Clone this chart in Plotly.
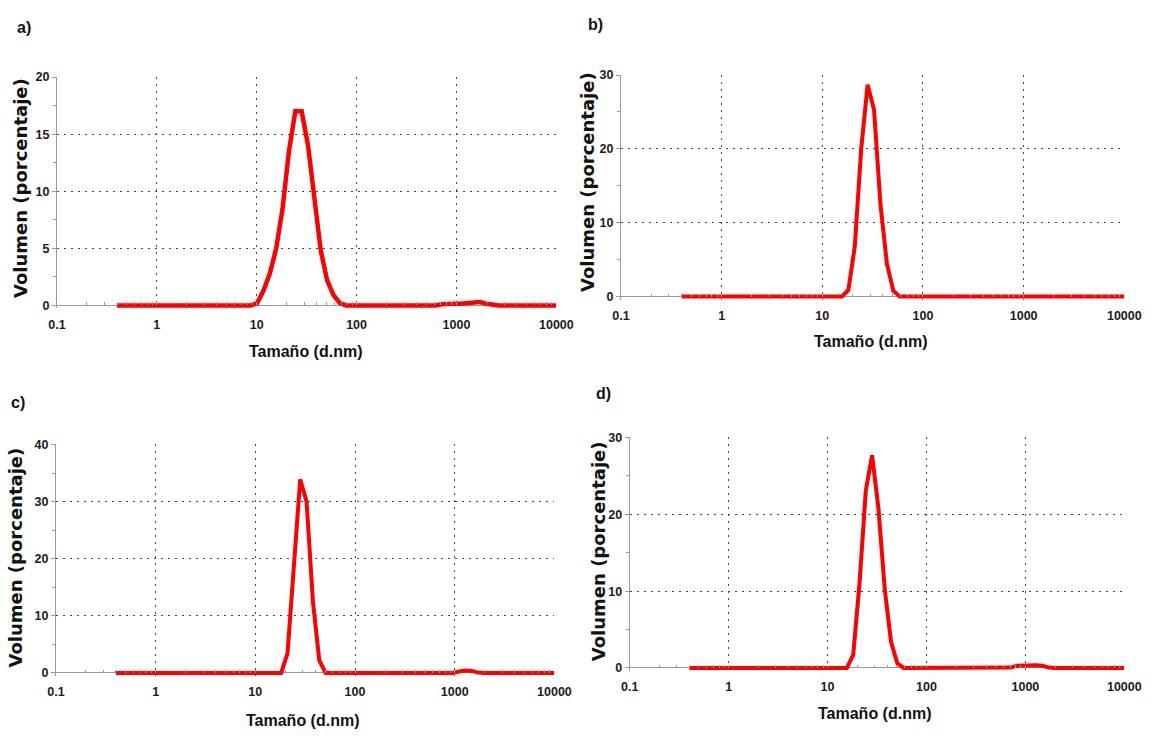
import plotly.graph_objects as go

# ---------------- data ----------------
size_nm = [0.4, 0.4632, 0.5365, 0.6213, 0.7195, 0.8332, 0.9649, 1.117, 1.294, 1.499,
           1.736, 2.01, 2.328, 2.696, 3.122, 3.615, 4.187, 4.849, 5.615, 6.503,
           7.531, 8.721, 10.1, 11.7, 13.54, 15.69, 18.17, 21.04, 24.36, 28.21,
           32.67, 37.84, 43.82, 50.75, 58.77, 68.06, 78.82, 91.28, 105.7, 122.4,
           141.8, 164.2, 190.1, 220.2, 255, 295.3, 342, 396.1, 458.7, 531.2,
           615.1, 712.4, 825, 955.4, 1106, 1281, 1484, 1718, 1990, 2305,
           2669, 3091, 3580, 4145, 4801, 5560, 6439, 7456, 8635, 10000]

vol_a = [0, 0, 0, 0, 0, 0, 0, 0, 0, 0,
         0, 0, 0, 0, 0, 0, 0, 0, 0, 0,
         0, 0, 0.2, 1.3, 2.8, 5.0, 8.5, 13.5, 17.0, 17.0,
         14.0, 9.2, 4.8, 2.2, 0.9, 0.2, 0, 0, 0, 0,
         0, 0, 0, 0, 0, 0, 0, 0, 0, 0,
         0, 0.1, 0.15, 0.15, 0.15, 0.2, 0.3, 0.3, 0.15, 0.05,
         0, 0, 0, 0, 0, 0, 0, 0, 0, 0]

vol_b = [0, 0, 0, 0, 0, 0, 0, 0, 0, 0,
         0, 0, 0, 0, 0, 0, 0, 0, 0, 0,
         0, 0, 0, 0, 0, 0, 0.9, 6.8, 20.0, 28.7,
         25.3, 12.5, 4.5, 0.8, 0, 0, 0, 0, 0, 0,
         0, 0, 0, 0, 0, 0, 0, 0, 0, 0,
         0, 0, 0, 0, 0, 0, 0, 0, 0, 0,
         0, 0, 0, 0, 0, 0, 0, 0, 0, 0]

vol_c = [0, 0, 0, 0, 0, 0, 0, 0, 0, 0,
         0, 0, 0, 0, 0, 0, 0, 0, 0, 0,
         0, 0, 0, 0, 0, 0, 0, 3.4, 19.5, 33.9,
         30.0, 12.5, 2.2, 0, 0, 0, 0, 0, 0, 0,
         0, 0, 0, 0, 0, 0, 0, 0, 0, 0,
         0, 0, 0, 0, 0.25, 0.4, 0.35, 0.05, 0, 0,
         0, 0, 0, 0, 0, 0, 0, 0, 0, 0]

vol_d = [0, 0, 0, 0, 0, 0, 0, 0, 0, 0,
         0, 0, 0, 0, 0, 0, 0, 0, 0, 0,
         0, 0, 0, 0, 0, 0, 1.7, 11.0, 23.1, 27.7,
         20.8, 10.3, 3.4, 0.6, 0, 0, 0, 0, 0, 0,
         0, 0, 0, 0, 0, 0, 0, 0, 0, 0,
         0, 0.05, 0.3, 0.35, 0.35, 0.35, 0.3, 0.05, 0, 0,
         0, 0, 0, 0, 0, 0, 0, 0, 0, 0]

x_tick_vals = [0.1, 1, 10, 100, 1000, 10000]
x_tick_text = ["0.1", "1", "10", "100", "1000", "10000"]
panel_labels = ["a)", "b)", "c)", "d)"]
y_max = [20, 30, 40, 30]
y_major = [5, 10, 10, 10]
y_minor = [2.5, 5, 5, 5]
x_title = "Tamaño (d.nm)"
y_title = "Volumen (porcentaje)"

# ---------------- layout geometry (pixels) ----------------
W, H = 1157, 736
# x0, x1 (0.1 and 10000), y_top (max), y_zero
boxes = [(49, 560, 71, 303), (626, 1141, 69, 294), (48, 558, 444, 676), (635, 1141, 437, 671)]
ytitle_pos = [(11, 184), (592, 178), (7, 559), (603, 552)]
xtitle_pos = [(303, 350), (881, 340), (300, 724), (885, 717)]
label_pos = [(15, 21), (600, 18), (9, 401), (608, 392)]
line_w = [4.5, 4, 4, 4]

NARROW = "Liberation Sans Narrow, Arial Narrow, Liberation Sans, Arial"
TICK_FONT = dict(family=NARROW, size=12.5, color="#1a1a1a", weight="bold")
GRID = dict(showgrid=True, gridcolor="#444444", gridwidth=1, griddash="2px,5px")
AXGRAY = "#9a9a9a"

series = [vol_a, vol_b, vol_c, vol_d]
fig = go.Figure()
layout = dict(width=W, height=H, margin=dict(l=0, r=0, t=0, b=0),
              paper_bgcolor="white", plot_bgcolor="white", showlegend=False,
              annotations=[])

for i, vals in enumerate(series):
    n = "" if i == 0 else str(i + 1)
    x0, x1, ytop, yzero = boxes[i]
    ppu = (yzero - ytop) / y_max[i]
    below = 3.0
    fig.add_trace(go.Scatter(x=size_nm, y=vals, mode="lines",
                             line=dict(color="#ff0000", width=line_w[i]),
                             xaxis="x" + n, yaxis="y" + n, hoverinfo="skip"))
    layout["xaxis" + n] = dict(
        type="log", range=[-1, 4.0005], domain=[x0 / W, x1 / W],
        anchor="free", position=1 - yzero / H,
        tickmode="array", tickvals=x_tick_vals, ticktext=x_tick_text,
        ticks="inside", ticklen=3, tickcolor=AXGRAY, tickwidth=1,
        minor=dict(tickmode="linear", dtick="D1", ticks="inside", ticklen=3,
                   tickcolor=AXGRAY, showgrid=False),
        showline=False, zeroline=False, tickfont=TICK_FONT, ticklabelstandoff=10,
        fixedrange=True, **GRID)
    layout["yaxis" + n] = dict(
        range=[-below / ppu, y_max[i] * 1.0005], domain=[1 - (yzero + below) / H, 1 - ytop / H],
        anchor="x" + n, tick0=0, dtick=y_major[i],
        ticks="outside", ticklen=4, tickcolor=AXGRAY, tickwidth=1,
        minor=dict(dtick=y_minor[i], ticks="outside", ticklen=3, tickcolor=AXGRAY, showgrid=False),
        showline=True, linecolor=AXGRAY, linewidth=1,
        zeroline=True, zerolinecolor=AXGRAY, zerolinewidth=1,
        tickfont=TICK_FONT, fixedrange=True, **GRID)
    tx, ty = ytitle_pos[i]
    layout["annotations"].append(dict(
        text=y_title, x=tx / W, y=1 - ty / H, xref="paper", yref="paper",
        showarrow=False, textangle=-90, xanchor="center", yanchor="middle",
        font=dict(family="DejaVu Sans", size=18, color="#111111", weight="bold")))
    tx, ty = xtitle_pos[i]
    layout["annotations"].append(dict(
        text=x_title, x=tx / W, y=1 - ty / H, xref="paper", yref="paper",
        showarrow=False, xanchor="center", yanchor="middle",
        font=dict(family=NARROW, size=16, color="#111111", weight="bold")))
    tx, ty = label_pos[i]
    layout["annotations"].append(dict(
        text=panel_labels[i], x=tx / W, y=1 - ty / H, xref="paper", yref="paper",
        showarrow=False, xanchor="center", yanchor="middle",
        font=dict(family=NARROW, size=16, color="#111111", weight="bold")))

fig.update_layout(**layout)
fig.write_html("out.html")
